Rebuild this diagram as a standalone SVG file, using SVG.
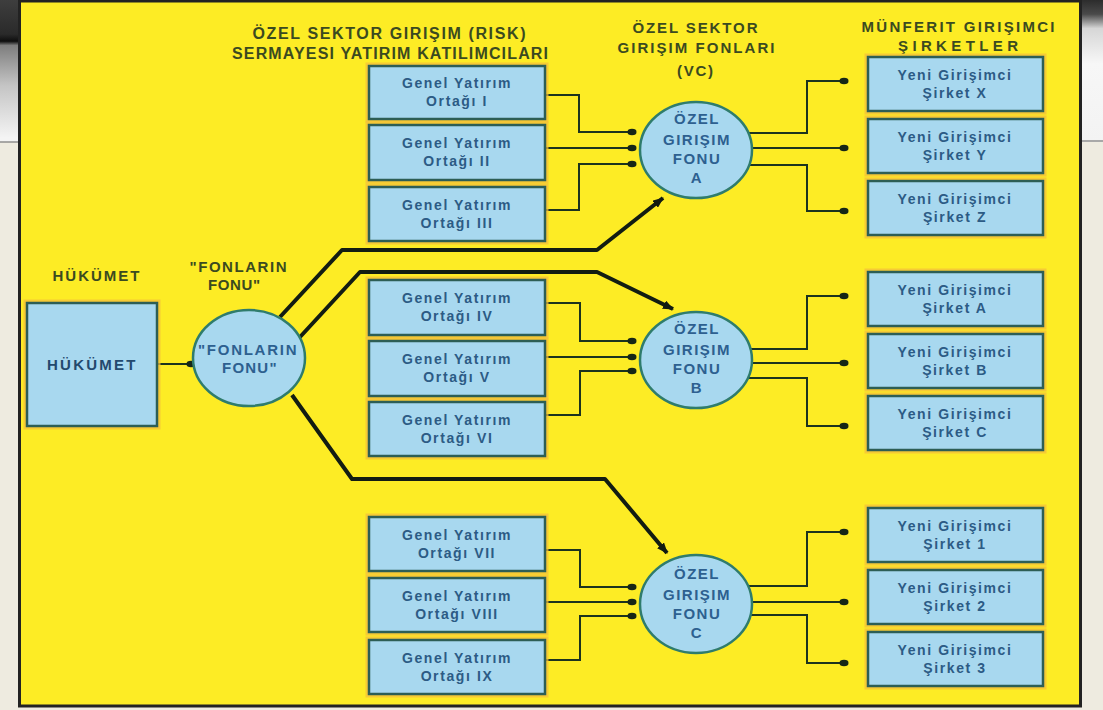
<svg xmlns="http://www.w3.org/2000/svg" width="1103" height="710" viewBox="0 0 1103 710">
<defs>
<linearGradient id="lstrip" x1="0" y1="0" x2="0" y2="142" gradientUnits="userSpaceOnUse">
<stop offset="0" stop-color="#3e3e3e"/><stop offset="0.24" stop-color="#2a2a2a"/><stop offset="0.29" stop-color="#0e0e0e"/><stop offset="0.32" stop-color="#7e7e7e"/><stop offset="0.6" stop-color="#c4c4c4"/><stop offset="0.97" stop-color="#f4f4f4"/>
</linearGradient>
<linearGradient id="rstrip" x1="0" y1="0" x2="0" y2="142" gradientUnits="userSpaceOnUse">
<stop offset="0" stop-color="#2c2c2c"/><stop offset="0.1" stop-color="#4a4a4a"/><stop offset="0.2" stop-color="#d6d6d6"/><stop offset="0.45" stop-color="#f7f7f7"/><stop offset="1" stop-color="#f3f3f3"/>
</linearGradient>
<marker id="dot" viewBox="-5 -4 10 8" refX="0" refY="0" markerWidth="10" markerHeight="8" markerUnits="userSpaceOnUse" orient="auto">
<ellipse cx="0" cy="0" rx="4.5" ry="3.3" fill="#162616"/>
</marker>
<marker id="arr" viewBox="0 0 11 9" refX="10" refY="4.5" markerWidth="11" markerHeight="9" markerUnits="userSpaceOnUse" orient="auto">
<path d="M0,0 L11,4.5 L0,9 z" fill="#111a11"/>
</marker>
</defs>
<style>
.box{fill:#a8d8ef;stroke:#2d5e55;stroke-width:2.5}
.halo{fill:none;stroke:#f3bf3c;stroke-width:3;opacity:.75}
.fund{fill:#a8d8ef;stroke:#2f7c6c;stroke-width:2.5}
.t{font-family:"Liberation Sans",Arial,sans-serif;font-weight:bold;text-anchor:middle}
.bt{font-size:14px;fill:#2c5b85;letter-spacing:1.6px}
.ct{font-size:15px;fill:#2d6090;letter-spacing:1.5px}
.hd{fill:#3b4a20}
.ln{fill:none;stroke:#1c331e;stroke-width:2}
.thick{fill:none;stroke:#121c12;stroke-width:4;stroke-linejoin:round}
</style>

<rect x="0" y="0" width="1103" height="710" fill="#eeebe0"/>
<rect x="0" y="0" width="20" height="142" fill="url(#lstrip)"/>
<rect x="1082" y="0" width="21" height="142" fill="url(#rstrip)"/>
<line x1="0" y1="142" x2="20" y2="142" stroke="#8f8f8f" stroke-width="1.5"/>
<line x1="1082" y1="141" x2="1103" y2="141" stroke="#8f8f8f" stroke-width="1.5"/>
<rect x="19.5" y="1" width="1061" height="705" fill="#fdec25" stroke="#222222" stroke-width="3"/>

<g id="headers" class="t hd">
<text x="389" y="39" font-size="16" textLength="273" lengthAdjust="spacing">ÖZEL SEKTOR GIRIŞIM (RISK)</text>
<text x="390" y="59" font-size="16" textLength="316" lengthAdjust="spacing">SERMAYESI YATIRIM KATILIMCILARI</text>
<text x="695" y="33" font-size="15" textLength="125" lengthAdjust="spacing">ÖZEL SEKTOR</text>
<text x="696" y="53" font-size="15" textLength="157" lengthAdjust="spacing">GIRIŞIM FONLARI</text>
<text x="695" y="76" font-size="15" textLength="36" lengthAdjust="spacing">(VC)</text>
<text x="958" y="32" font-size="15" textLength="193" lengthAdjust="spacing">MÜNFERIT GIRIŞIMCI</text>
<text x="958" y="51" font-size="15" textLength="120" lengthAdjust="spacing">ŞIRKETLER</text>
<text x="96" y="281" font-size="15" textLength="87" lengthAdjust="spacing">HÜKÜMET</text>
<text x="238" y="272" font-size="15" textLength="97" lengthAdjust="spacing">"FONLARIN</text>
<text x="234" y="290" font-size="15" textLength="52" lengthAdjust="spacing">FONU"</text>
</g>

<g id="connectors">
<path class="thick" d="M280,317 L342,250 L597,250 L663,198" marker-end="url(#arr)"/>
<path class="thick" d="M300,337 L360,272 L597,272 L673,309" marker-end="url(#arr)"/>
<path class="thick" d="M292,395 L352,479 L605,479 L667,553" marker-end="url(#arr)"/>
<path class="ln" d="M157,364 L191,364" marker-end="url(#dot)"/>
<path class="ln" d="M545,95 L579,95 L579,132 L632,132" marker-end="url(#dot)"/>
<path class="ln" d="M545,148 L632,148" marker-end="url(#dot)"/>
<path class="ln" d="M545,210 L579,210 L579,164 L632,164" marker-end="url(#dot)"/>
<path class="ln" d="M545,303 L580,303 L580,341 L632,341" marker-end="url(#dot)"/>
<path class="ln" d="M545,357 L632,357" marker-end="url(#dot)"/>
<path class="ln" d="M545,415 L580,415 L580,371 L632,371" marker-end="url(#dot)"/>
<path class="ln" d="M545,550 L580,550 L580,587 L632,587" marker-end="url(#dot)"/>
<path class="ln" d="M545,602 L632,602" marker-end="url(#dot)"/>
<path class="ln" d="M545,660 L580,660 L580,616 L632,616" marker-end="url(#dot)"/>
<path class="ln" d="M745,133 L807,133 L807,81 L844,81" marker-end="url(#dot)"/>
<path class="ln" d="M745,148 L844,148" marker-end="url(#dot)"/>
<path class="ln" d="M745,165 L807,165 L807,211 L844,211" marker-end="url(#dot)"/>
<path class="ln" d="M745,349 L807,349 L807,296 L844,296" marker-end="url(#dot)"/>
<path class="ln" d="M745,363 L844,363" marker-end="url(#dot)"/>
<path class="ln" d="M745,378 L807,378 L807,426 L844,426" marker-end="url(#dot)"/>
<path class="ln" d="M745,586 L807,586 L807,532 L844,532" marker-end="url(#dot)"/>
<path class="ln" d="M745,602 L844,602" marker-end="url(#dot)"/>
<path class="ln" d="M745,615 L807,615 L807,663 L844,663" marker-end="url(#dot)"/>
</g>

<g id="hukumet">
<rect class="halo" x="25" y="301" width="134" height="127"/>
<rect class="box" x="27" y="303" width="130" height="123"/>
<text class="t ct" x="92" y="370" textLength="90" lengthAdjust="spacing" style="fill:#23496e">HÜKÜMET</text>
</g>

<g id="fonlarin-fonu">
<ellipse class="fund" cx="249" cy="358" rx="56" ry="48"/>
<text class="t ct" x="248" y="355" textLength="100" lengthAdjust="spacing">"FONLARIN</text>
<text class="t ct" x="250" y="373" textLength="56" lengthAdjust="spacing">FONU"</text>
</g>

<g id="ortak-1"><rect class="halo" x="367" y="64" width="180" height="57"/><rect class="box" x="369" y="66" width="176" height="53"/>
<text class="t bt" x="457" y="88">Genel Yatırım</text><text class="t bt" x="457" y="106">Ortağı I</text></g>
<g id="ortak-2"><rect class="halo" x="367" y="123" width="180" height="59"/><rect class="box" x="369" y="125" width="176" height="55"/>
<text class="t bt" x="457" y="148">Genel Yatırım</text><text class="t bt" x="457" y="166">Ortağı II</text></g>
<g id="ortak-3"><rect class="halo" x="367" y="185" width="180" height="58"/><rect class="box" x="369" y="187" width="176" height="54"/>
<text class="t bt" x="457" y="210">Genel Yatırım</text><text class="t bt" x="457" y="228">Ortağı III</text></g>
<g id="ortak-4"><rect class="halo" x="367" y="278" width="180" height="59"/><rect class="box" x="369" y="280" width="176" height="55"/>
<text class="t bt" x="457" y="303">Genel Yatırım</text><text class="t bt" x="457" y="321">Ortağı IV</text></g>
<g id="ortak-5"><rect class="halo" x="367" y="339" width="180" height="59"/><rect class="box" x="369" y="341" width="176" height="55"/>
<text class="t bt" x="457" y="364">Genel Yatırım</text><text class="t bt" x="457" y="382">Ortağı V</text></g>
<g id="ortak-6"><rect class="halo" x="367" y="400" width="180" height="58"/><rect class="box" x="369" y="402" width="176" height="54"/>
<text class="t bt" x="457" y="425">Genel Yatırım</text><text class="t bt" x="457" y="443">Ortağı VI</text></g>
<g id="ortak-7"><rect class="halo" x="367" y="515" width="180" height="58"/><rect class="box" x="369" y="517" width="176" height="54"/>
<text class="t bt" x="457" y="540">Genel Yatırım</text><text class="t bt" x="457" y="558">Ortağı VII</text></g>
<g id="ortak-8"><rect class="halo" x="367" y="576" width="180" height="58"/><rect class="box" x="369" y="578" width="176" height="54"/>
<text class="t bt" x="457" y="601">Genel Yatırım</text><text class="t bt" x="457" y="619">Ortağı VIII</text></g>
<g id="ortak-9"><rect class="halo" x="367" y="638" width="180" height="58"/><rect class="box" x="369" y="640" width="176" height="54"/>
<text class="t bt" x="457" y="663">Genel Yatırım</text><text class="t bt" x="457" y="681">Ortağı IX</text></g>

<g id="fon-a"><ellipse class="fund" cx="696" cy="150" rx="56" ry="48"/>
<text class="t ct" x="697" y="124">ÖZEL</text><text class="t ct" x="697" y="145">GIRIŞIM</text><text class="t ct" x="697" y="164">FONU</text><text class="t ct" x="697" y="183">A</text></g>
<g id="fon-b"><ellipse class="fund" cx="696" cy="360" rx="56" ry="48"/>
<text class="t ct" x="697" y="334">ÖZEL</text><text class="t ct" x="697" y="355">GIRIŞIM</text><text class="t ct" x="697" y="374">FONU</text><text class="t ct" x="697" y="393">B</text></g>
<g id="fon-c"><ellipse class="fund" cx="696" cy="604" rx="56" ry="49"/>
<text class="t ct" x="697" y="579">ÖZEL</text><text class="t ct" x="697" y="600">GIRIŞIM</text><text class="t ct" x="697" y="619">FONU</text><text class="t ct" x="697" y="638">C</text></g>

<g id="sirket-x"><rect class="halo" x="866" y="55" width="179" height="58"/><rect class="box" x="868" y="57" width="175" height="54"/>
<text class="t bt" x="955" y="80">Yeni Girişimci</text><text class="t bt" x="955" y="98">Şirket X</text></g>
<g id="sirket-y"><rect class="halo" x="866" y="117" width="179" height="58"/><rect class="box" x="868" y="119" width="175" height="54"/>
<text class="t bt" x="955" y="142">Yeni Girişimci</text><text class="t bt" x="955" y="160">Şirket Y</text></g>
<g id="sirket-z"><rect class="halo" x="866" y="179" width="179" height="58"/><rect class="box" x="868" y="181" width="175" height="54"/>
<text class="t bt" x="955" y="204">Yeni Girişimci</text><text class="t bt" x="955" y="222">Şirket Z</text></g>
<g id="sirket-a"><rect class="halo" x="866" y="270" width="179" height="58"/><rect class="box" x="868" y="272" width="175" height="54"/>
<text class="t bt" x="955" y="295">Yeni Girişimci</text><text class="t bt" x="955" y="313">Şirket A</text></g>
<g id="sirket-b"><rect class="halo" x="866" y="332" width="179" height="58"/><rect class="box" x="868" y="334" width="175" height="54"/>
<text class="t bt" x="955" y="357">Yeni Girişimci</text><text class="t bt" x="955" y="375">Şirket B</text></g>
<g id="sirket-c"><rect class="halo" x="866" y="394" width="179" height="58"/><rect class="box" x="868" y="396" width="175" height="54"/>
<text class="t bt" x="955" y="419">Yeni Girişimci</text><text class="t bt" x="955" y="437">Şirket C</text></g>
<g id="sirket-1"><rect class="halo" x="866" y="506" width="179" height="58"/><rect class="box" x="868" y="508" width="175" height="54"/>
<text class="t bt" x="955" y="531">Yeni Girişimci</text><text class="t bt" x="955" y="549">Şirket 1</text></g>
<g id="sirket-2"><rect class="halo" x="866" y="568" width="179" height="58"/><rect class="box" x="868" y="570" width="175" height="54"/>
<text class="t bt" x="955" y="593">Yeni Girişimci</text><text class="t bt" x="955" y="611">Şirket 2</text></g>
<g id="sirket-3"><rect class="halo" x="866" y="630" width="179" height="58"/><rect class="box" x="868" y="632" width="175" height="54"/>
<text class="t bt" x="955" y="655">Yeni Girişimci</text><text class="t bt" x="955" y="673">Şirket 3</text></g>
</svg>
